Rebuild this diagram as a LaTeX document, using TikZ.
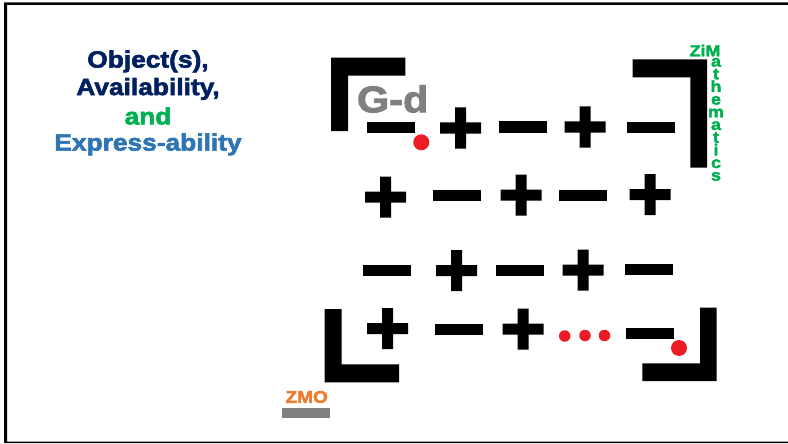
\documentclass[tikz,border=0pt]{standalone}
\usepackage{fontspec}
\setmainfont{Liberation Sans}
\newfontfamily\hb[FakeBold=2.5,FakeStretch=1.12]{Liberation Sans Bold}
\definecolor{navy}{HTML}{002060}
\definecolor{zgreen}{HTML}{00B050}
\definecolor{zblue}{HTML}{2E75B6}
\definecolor{zorange}{HTML}{ED7D31}
\definecolor{zgray}{HTML}{7F7F7F}
\definecolor{zred}{HTML}{ED1C24}
\tikzset{
  x=1pt,y=-1pt,
  minusbar/.pic={\fill[black] (-24,-5.5) rectangle (24,5.5);},
  plusbar/.pic={\fill[black] (-20.5,-5.5) rectangle (20.5,5.5) (-5.5,-20.5) rectangle (5.5,20.5);},
  title/.style={inner sep=0pt,font=\hb\fontsize{23.5}{24}\selectfont,anchor=center},
  bigdot/.style={circle,fill=zred,draw=none,inner sep=0pt,minimum size=16pt},
  smalldot/.style={circle,fill=zred,draw=none,inner sep=0pt,minimum size=11.5pt},
}
\begin{document}
\begin{tikzpicture}
\useasboundingbox (0,0) rectangle (788,444);
\fill[white] (0,0) rectangle (788,444);
\fill[black] (4,2.3) rectangle (788,5) (4,2.3) rectangle (7,443) (4,441.7) rectangle (788,443);
% brackets
\fill[black] (331,57.7) -- (405.3,57.7) -- (405.3,75.7) -- (348,75.7) -- (348,131) -- (331,131) -- cycle;
\fill[black] (632.7,59.3) -- (707,59.3) -- (707,167.7) -- (690.3,167.7) -- (690.3,77.3) -- (632.7,77.3) -- cycle;
\fill[black] (324.7,309) -- (341.7,309) -- (341.7,364.3) -- (399,364.3) -- (399,382.3) -- (324.7,382.3) -- cycle;
\fill[black] (700,307.7) -- (716.7,307.7) -- (716.7,381) -- (642.3,381) -- (642.3,363.3) -- (700,363.3) -- cycle;
% signs
\pic at (390.5,127.3) {minusbar};
\pic at (460.5,128) {plusbar};
\pic at (522.7,127) {minusbar};
\pic at (585,127) {plusbar};
\pic at (651,127.7) {minusbar};
\pic at (385.7,197) {plusbar};
\pic at (457,195) {minusbar};
\pic at (521,195) {plusbar};
\pic at (583,195.7) {minusbar};
\pic at (650,194.7) {plusbar};
\pic at (386.7,270) {minusbar};
\pic at (456.7,270.5) {plusbar};
\pic at (520,270) {minusbar};
\pic at (583,270) {plusbar};
\pic at (649,269.7) {minusbar};
\pic at (387.7,328.7) {plusbar};
\pic at (458.7,329) {minusbar};
\pic at (523,329) {plusbar};
\pic at (650,333.7) {minusbar};
% dots
\node[bigdot] (d1) at (421.3,142.3) {};
\node[bigdot] (d2) at (679,348) {};
\node[smalldot] (s1) at (564.7,336) {};
\node[smalldot] (s2) at (585,335.5) {};
\node[smalldot] (s3) at (604.5,335.5) {};
% texts
\node[inner sep=0pt,text=zgray,font=\hb\fontsize{37}{37}\selectfont] (gd) at (392.7,99) {G-d};
\node[title,text=navy] (t1) at (148,61.5) {Object(s),};
\node[title,text=navy] (t2) at (148,89) {Availability,};
\node[title,text=zgreen] (t3) at (148,116) {and};
\node[title,text=zblue] (t4) at (148,144.5) {Express-ability};
\node[inner sep=0pt,text=zorange,font=\hb\fontsize{17}{17}\selectfont] (zmo) at (306.7,397) {ZMO};
\fill[zgray] (282.3,407.7) rectangle (329.7,418);
\node[inner sep=0pt,text=zgreen,font=\hb\fontsize{16}{16}\selectfont] (z0) at (705,50.5) {ZiM};
\node[inner sep=0pt,text=zgreen,font=\hb\fontsize{16}{12.67}\selectfont,align=center,anchor=south] (z1) at (716,181) {a\\t\\h\\e\\m\\a\\t\\i\\c\\s};
\end{tikzpicture}
\end{document}
